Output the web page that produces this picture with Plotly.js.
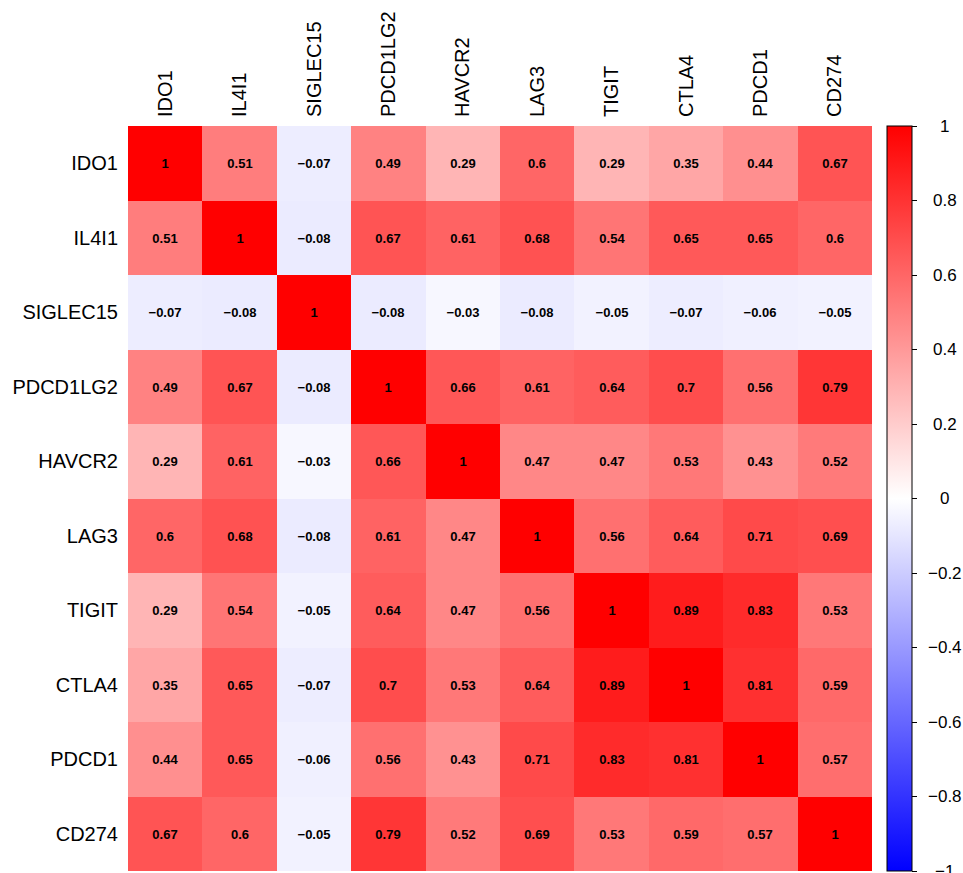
<!DOCTYPE html>
<html>
<head>
<meta charset="utf-8">
<script src="https://cdn.plot.ly/plotly-3.0.1.min.js"></script>
<style>
  html, body { margin: 0; padding: 0; background: #fff; }
  #chart { width: 963px; height: 873px; }
</style>
</head>
<body>
<div id="chart"></div>
<script>
// Immune checkpoint genes (row/column order of the correlation matrix)
const genes = ["IDO1", "IL4I1", "SIGLEC15", "PDCD1LG2", "HAVCR2", "LAG3", "TIGIT", "CTLA4", "PDCD1", "CD274"];

// Pairwise correlation coefficients, one array per gene
const rowIDO1     = [1, 0.51, -0.07, 0.49, 0.29, 0.6, 0.29, 0.35, 0.44, 0.67];
const rowIL4I1    = [0.51, 1, -0.08, 0.67, 0.61, 0.68, 0.54, 0.65, 0.65, 0.6];
const rowSIGLEC15 = [-0.07, -0.08, 1, -0.08, -0.03, -0.08, -0.05, -0.07, -0.06, -0.05];
const rowPDCD1LG2 = [0.49, 0.67, -0.08, 1, 0.66, 0.61, 0.64, 0.7, 0.56, 0.79];
const rowHAVCR2   = [0.29, 0.61, -0.03, 0.66, 1, 0.47, 0.47, 0.53, 0.43, 0.52];
const rowLAG3     = [0.6, 0.68, -0.08, 0.61, 0.47, 1, 0.56, 0.64, 0.71, 0.69];
const rowTIGIT    = [0.29, 0.54, -0.05, 0.64, 0.47, 0.56, 1, 0.89, 0.83, 0.53];
const rowCTLA4    = [0.35, 0.65, -0.07, 0.7, 0.53, 0.64, 0.89, 1, 0.81, 0.59];
const rowPDCD1    = [0.44, 0.65, -0.06, 0.56, 0.43, 0.71, 0.83, 0.81, 1, 0.57];
const rowCD274    = [0.67, 0.6, -0.05, 0.79, 0.52, 0.69, 0.53, 0.59, 0.57, 1];

// Colour bar ticks
const cbTicks = [-1, -0.8, -0.6, -0.4, -0.2, 0, 0.2, 0.4, 0.6, 0.8, 1];

const zMin = -1, zMax = 1;

const z = [rowIDO1, rowIL4I1, rowSIGLEC15, rowPDCD1LG2, rowHAVCR2,
           rowLAG3, rowTIGIT, rowCTLA4, rowPDCD1, rowCD274];

// Signed number with a true minus sign
const fmt = v => (v < 0 ? "\u2212" + Math.abs(v) : String(v));

// Cell labels: the coefficient itself
const cellText = z.map(r => r.map(fmt));

const labelFont = "Liberation Sans, Arial, sans-serif";

const trace = {
  type: "heatmap",
  x: genes,
  y: genes,
  z: z,
  zmin: zMin,
  zmax: zMax,
  text: cellText,
  texttemplate: "<b>%{text}</b>",
  textfont: { family: labelFont, size: 13, color: "#000" },
  colorscale: [[0, "rgb(0,0,255)"], [0.5, "rgb(255,255,255)"], [1, "rgb(255,0,0)"]],
  xgap: 0,
  ygap: 0,
  colorbar: {
    x: 1.0202,
    xanchor: "left",
    xpad: 0,
    y: 0.5,
    yanchor: "middle",
    len: 1,
    lenmode: "fraction",
    ypad: 0,
    thickness: 25,
    thicknessmode: "pixels",
    outlinewidth: 1,
    outlinecolor: "#000",
    tickmode: "array",
    tickvals: cbTicks,
    ticks: "outside",
    ticklen: 5,
    tickwidth: 1,
    tickcolor: "#000",
    showticklabels: false
  }
};

// Colour bar labels, centred in a column to the right of the bar.
// The bar spans the full plot height, so a value maps straight to paper y.
const cbLabels = cbTicks.map(v => ({
  xref: "paper",
  yref: "paper",
  x: 1.098,
  y: (v - zMin) / (zMax - zMin),
  xanchor: "center",
  yanchor: "middle",
  text: fmt(v),
  showarrow: false,
  font: { family: labelFont, size: 17, color: "#000" }
}));

const axisFont = { family: labelFont, size: 20, color: "#000" };

const layout = {
  width: 963,
  height: 873,
  margin: { l: 128, r: 91, t: 126, b: 2, autoexpand: false },
  paper_bgcolor: "#fff",
  plot_bgcolor: "#fff",
  annotations: cbLabels,
  xaxis: {
    side: "top",
    tickangle: -90,
    tickfont: axisFont,
    ticks: "",
    ticklabelstandoff: 8,
    showgrid: false,
    zeroline: false,
    showline: false
  },
  yaxis: {
    autorange: "reversed",
    tickfont: axisFont,
    ticks: "",
    ticklabelstandoff: 9,
    showgrid: false,
    zeroline: false,
    showline: false
  }
};

Plotly.newPlot("chart", [trace], layout, { displayModeBar: false, staticPlot: true });
</script>
</body>
</html>
